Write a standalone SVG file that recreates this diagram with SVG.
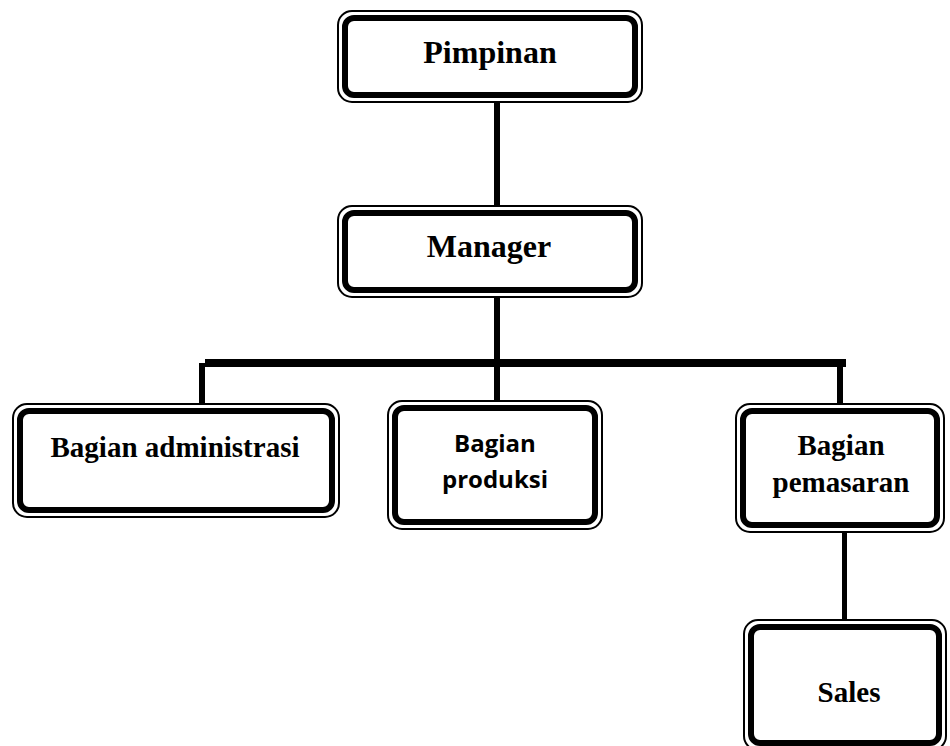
<svg xmlns="http://www.w3.org/2000/svg" width="950" height="746" viewBox="0 0 950 746">
<style>
.thin{fill:none;stroke:#000;stroke-width:2}
.thick{fill:none;stroke:#000;stroke-width:6}
.bg{fill:#fff}
.serif{font-family:"Liberation Serif","Times New Roman",serif;font-weight:bold;fill:#000;text-anchor:middle}
.sans{font-family:"Open Sans","Noto Sans",sans-serif;font-weight:bold;fill:#000;text-anchor:middle}
.line{fill:#000}
</style>
<rect width="950" height="746" fill="#fff"/>
<g id="connectors">
<rect class="line" x="494" y="100" width="6" height="108"/>
<rect class="line" x="494" y="295" width="6" height="108"/>
<rect class="line" x="205" y="359" width="641" height="8"/>
<rect class="line" x="199" y="363" width="6" height="42"/>
<rect class="line" x="837" y="365" width="6" height="40"/>
<rect class="line" x="842" y="530" width="5" height="92"/>
</g>
<g id="pimpinan">
<rect class="thin bg" x="338" y="11" width="304" height="91" rx="14"/>
<rect class="thick" x="345" y="18" width="290" height="77" rx="9"/>
<text class="serif" x="490" y="63" font-size="32">Pimpinan</text>
</g>
<g id="manager">
<rect class="thin bg" x="338" y="206" width="304" height="91" rx="14"/>
<rect class="thick" x="345" y="213" width="290" height="77" rx="9"/>
<text class="serif" x="489" y="257" font-size="32">Manager</text>
</g>
<g id="administrasi">
<rect class="thin bg" x="13" y="404" width="326" height="113" rx="14"/>
<rect class="thick" x="20" y="411" width="312" height="99" rx="9"/>
<text class="serif" x="175" y="457" font-size="29">Bagian administrasi</text>
</g>
<g id="produksi">
<rect class="thin bg" x="388" y="401" width="214" height="128" rx="14"/>
<rect class="thick" x="395" y="408" width="200" height="114" rx="9"/>
<text class="sans" x="495" y="452" font-size="24">Bagian</text>
<text class="sans" x="495" y="488" font-size="24">produksi</text>
</g>
<g id="pemasaran">
<rect class="thin bg" x="736" y="404" width="208" height="128" rx="14"/>
<rect class="thick" x="743" y="411" width="194" height="114" rx="9"/>
<text class="serif" x="841" y="455" font-size="29">Bagian</text>
<text class="serif" x="841" y="492" font-size="29">pemasaran</text>
</g>
<g id="sales">
<rect class="thin bg" x="744" y="620" width="202" height="130" rx="14"/>
<rect class="thick" x="751" y="627" width="188" height="116" rx="9"/>
<text class="serif" x="849" y="702" font-size="29">Sales</text>
</g>
</svg>
